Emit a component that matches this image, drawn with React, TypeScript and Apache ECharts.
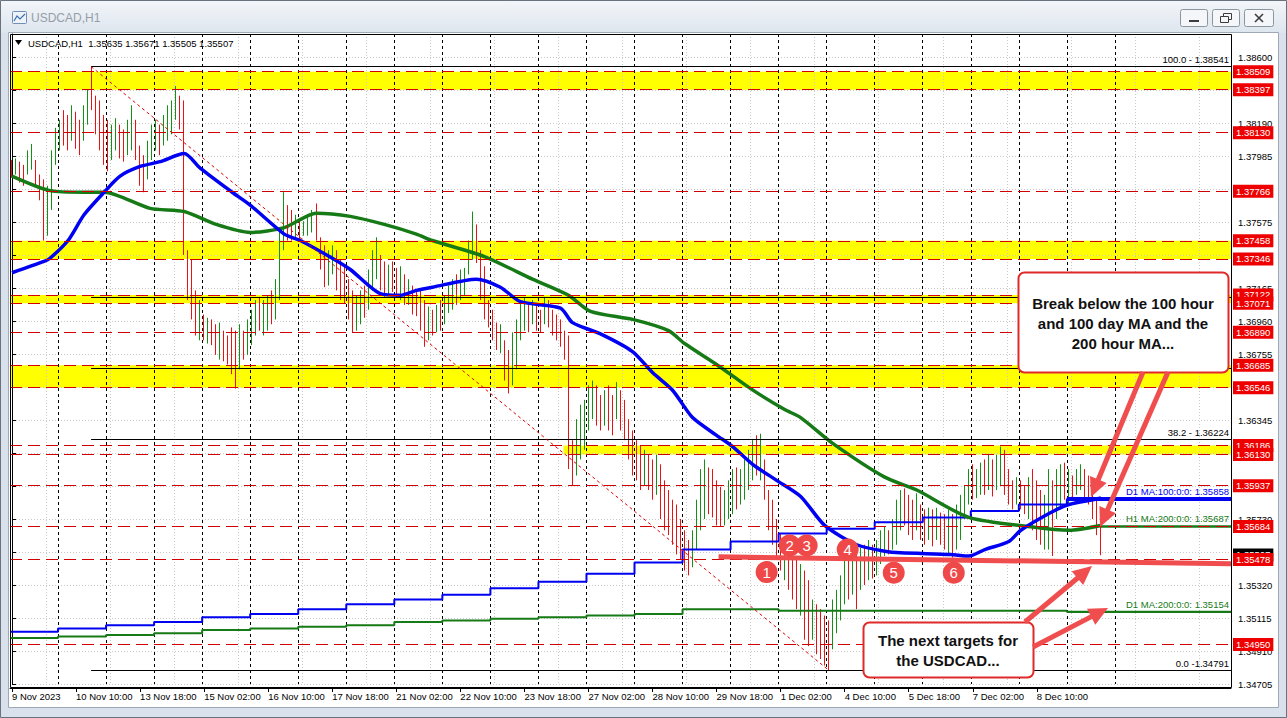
import React, { useEffect, useRef } from "react";
import * as echarts from "echarts";

const FONT = '"Liberation Sans", Arial, Helvetica, sans-serif';

// ---------------- data ----------------
const WINDOW_TITLE = "USDCAD,H1";
const LAST_BAR_OHLC = [1.35635, 1.35671, 1.35505, 1.35507];

const SLOT_COUNT = 305; // 2-hour slots across the plot (incl. empty space right of the last bar)
const BARS_PER_DAY = 12;
const X_TICK_EVERY = 16;
const X_TICK_LABELS = [
  "9 Nov 2023", "10 Nov 10:00", "13 Nov 18:00", "15 Nov 02:00", "16 Nov 10:00",
  "17 Nov 18:00", "21 Nov 02:00", "22 Nov 10:00", "23 Nov 18:00", "27 Nov 02:00",
  "28 Nov 10:00", "29 Nov 18:00", "1 Dec 02:00", "4 Dec 10:00", "5 Dec 18:00",
  "7 Dec 02:00", "8 Dec 10:00",
];

const Y_MIN = 1.34705;
const Y_MAX = 1.38743;
const Y_STEP = 0.00205;

const HIGH = [
  1.3796, 1.3797, 1.3795, 1.3793, 1.3802, 1.3806, 1.3796, 1.3787, 1.3784, 1.3780,
  1.3802, 1.3816, 1.3821, 1.3827, 1.3824, 1.3830, 1.3826, 1.3821, 1.3830, 1.3840,
  1.3854, 1.3836, 1.3833, 1.3824, 1.3821, 1.3818, 1.3822, 1.3818, 1.3815, 1.3821,
  1.3830, 1.3821, 1.3805, 1.3799, 1.3808, 1.3818, 1.3821, 1.3818, 1.3824, 1.3830,
  1.3833, 1.3842, 1.3836, 1.3833, 1.3740, 1.3734, 1.3715, 1.3709, 1.3700, 1.3698,
  1.3697, 1.3694, 1.3695, 1.3690, 1.3687, 1.3692, 1.3690, 1.3694, 1.3690, 1.3697,
  1.3703, 1.3709, 1.3711, 1.3709, 1.3712, 1.3715, 1.3722, 1.3753, 1.3776, 1.3768,
  1.3765, 1.3762, 1.3759, 1.3758, 1.3762, 1.3765, 1.3769, 1.3748, 1.3743, 1.3740,
  1.3743, 1.3740, 1.3734, 1.3731, 1.3722, 1.3715, 1.3712, 1.3715, 1.3718, 1.3728,
  1.3740, 1.3748, 1.3737, 1.3733, 1.3731, 1.3733, 1.3729, 1.3730, 1.3725, 1.3722,
  1.3718, 1.3715, 1.3715, 1.3709, 1.3705, 1.3703, 1.3706, 1.3709, 1.3712, 1.3718,
  1.3722, 1.3725, 1.3728, 1.3729, 1.3746, 1.3764, 1.3756, 1.3740, 1.3730, 1.3709,
  1.3703, 1.3695, 1.3694, 1.3684, 1.3678, 1.3689, 1.3697, 1.3709, 1.3711, 1.3706,
  1.3709, 1.3706, 1.3703, 1.3711, 1.3709, 1.3703, 1.3700, 1.3697, 1.3690, 1.3687,
  1.3622, 1.3635, 1.3644, 1.3647, 1.3656, 1.3659, 1.3656, 1.3650, 1.3653, 1.3656,
  1.3650, 1.3658, 1.3653, 1.3647, 1.3635, 1.3628, 1.3622, 1.3619, 1.3616, 1.3613,
  1.3610, 1.3613, 1.3607, 1.3597, 1.3591, 1.3585, 1.3582, 1.3573, 1.3566, 1.3560,
  1.3566, 1.3585, 1.3604, 1.3610, 1.3605, 1.3604, 1.3597, 1.3593, 1.3591, 1.3597,
  1.3604, 1.3605, 1.3604, 1.3610, 1.3616, 1.3622, 1.3625, 1.3626, 1.3610, 1.3591,
  1.3585, 1.3573, 1.3564, 1.3560, 1.3557, 1.3554, 1.3548, 1.3545, 1.3541, 1.3535,
  1.3523, 1.3520, 1.3517, 1.3513, 1.3510, 1.3523, 1.3529, 1.3538, 1.3548, 1.3551,
  1.3554, 1.3551, 1.3555, 1.3557, 1.3560, 1.3557, 1.3560, 1.3566, 1.3568, 1.3566,
  1.3573, 1.3585, 1.3591, 1.3592, 1.3588, 1.3585, 1.3589, 1.3582, 1.3579, 1.3580,
  1.3579, 1.3580, 1.3577, 1.3576, 1.3579, 1.3576, 1.3582, 1.3588, 1.3594, 1.3604,
  1.3607, 1.3604, 1.3608, 1.3610, 1.3613, 1.3610, 1.3613, 1.3618, 1.3616, 1.3604,
  1.3597, 1.3599, 1.3597, 1.3594, 1.3599, 1.3604, 1.3597, 1.3591, 1.3588, 1.3604,
  1.3597, 1.3604, 1.3607, 1.3608, 1.3604, 1.3600, 1.3604, 1.3607, 1.3604, 1.3600,
  1.3591, 1.3585, 1.3579,
];

const LOW = [
  1.3785, 1.3787, 1.3782, 1.3780, 1.3787, 1.3790, 1.3780, 1.3771, 1.3746, 1.3749,
  1.3765, 1.3793, 1.3802, 1.3805, 1.3802, 1.3808, 1.3803, 1.3799, 1.3808, 1.3818,
  1.3827, 1.3812, 1.3802, 1.3793, 1.3789, 1.3796, 1.3802, 1.3797, 1.3795, 1.3799,
  1.3802, 1.3796, 1.3780, 1.3776, 1.3784, 1.3796, 1.3802, 1.3799, 1.3805, 1.3808,
  1.3812, 1.3821, 1.3815, 1.3737, 1.3709, 1.3697, 1.3687, 1.3684, 1.3684, 1.3682,
  1.3681, 1.3675, 1.3672, 1.3671, 1.3669, 1.3663, 1.3654, 1.3666, 1.3672, 1.3675,
  1.3681, 1.3687, 1.3690, 1.3687, 1.3690, 1.3694, 1.3697, 1.3709, 1.3740, 1.3746,
  1.3746, 1.3748, 1.3746, 1.3749, 1.3749, 1.3751, 1.3746, 1.3728, 1.3717, 1.3718,
  1.3725, 1.3715, 1.3709, 1.3707, 1.3697, 1.3689, 1.3690, 1.3694, 1.3698, 1.3703,
  1.3715, 1.3722, 1.3715, 1.3711, 1.3712, 1.3714, 1.3711, 1.3709, 1.3706, 1.3706,
  1.3700, 1.3699, 1.3690, 1.3680, 1.3684, 1.3687, 1.3689, 1.3690, 1.3694, 1.3701,
  1.3703, 1.3706, 1.3709, 1.3712, 1.3725, 1.3734, 1.3732, 1.3709, 1.3697, 1.3692,
  1.3684, 1.3678, 1.3676, 1.3659, 1.3651, 1.3656, 1.3666, 1.3684, 1.3690, 1.3689,
  1.3694, 1.3690, 1.3689, 1.3694, 1.3692, 1.3687, 1.3684, 1.3680, 1.3672, 1.3604,
  1.3594, 1.3600, 1.3610, 1.3616, 1.3628, 1.3635, 1.3631, 1.3628, 1.3631, 1.3628,
  1.3625, 1.3635, 1.3628, 1.3622, 1.3610, 1.3600, 1.3597, 1.3591, 1.3594, 1.3591,
  1.3585, 1.3588, 1.3573, 1.3566, 1.3563, 1.3557, 1.3551, 1.3548, 1.3541, 1.3538,
  1.3543, 1.3554, 1.3566, 1.3573, 1.3576, 1.3574, 1.3569, 1.3568, 1.3569, 1.3573,
  1.3576, 1.3579, 1.3582, 1.3585, 1.3591, 1.3597, 1.3600, 1.3597, 1.3585, 1.3566,
  1.3557, 1.3548, 1.3541, 1.3535, 1.3529, 1.3523, 1.3517, 1.3513, 1.3498, 1.3494,
  1.3498, 1.3489, 1.3486, 1.3482, 1.3479, 1.3492, 1.3502, 1.3510, 1.3520, 1.3523,
  1.3526, 1.3517, 1.3529, 1.3532, 1.3535, 1.3536, 1.3538, 1.3545, 1.3550, 1.3551,
  1.3554, 1.3557, 1.3566, 1.3569, 1.3563, 1.3560, 1.3566, 1.3560, 1.3557, 1.3560,
  1.3556, 1.3560, 1.3557, 1.3554, 1.3551, 1.3549, 1.3554, 1.3560, 1.3573, 1.3582,
  1.3585, 1.3586, 1.3588, 1.3588, 1.3591, 1.3587, 1.3591, 1.3594, 1.3588, 1.3582,
  1.3579, 1.3582, 1.3579, 1.3576, 1.3573, 1.3566, 1.3560, 1.3557, 1.3554, 1.3554,
  1.3550, 1.3573, 1.3579, 1.3585, 1.3582, 1.3585, 1.3588, 1.3591, 1.3585, 1.3582,
  1.3573, 1.3563, 1.35505,
];

// U = bullish bar (green), D = bearish bar (red)
const DIRECTION = (
  "DUDDUUDDDU UUUDDUDDUU DDDDDUUDDU UDDDUUUDUU UUDDDDDUDU DDUDDDDUDU UUDUUDUUUD " +
  "DUDUUUDDDU UDDDDDUUDU UUDDUDDUDU DDDDUDUDUU UDUUUUDDDD DDUDDUUUUD UDDUDDDDDD " +
  "DUUUUUDDUD DUDDDDDDUD DUDDDDDDDD UUUUDDDDUU UDUUUUDUDD DDDUDDDUDD UDDDDUUUUD " +
  "UDUDUDUUUD UUUDDDUDDU DUDDUDUUUU DUUDUDUUDD DUDDUDDDUU DUUDUDUUDD DDD"
).replace(/ /g, "");

// 100-hour and 200-hour moving averages: [bar position, price]
const H1_MA100 = [
  [0, 1.3726], [8, 1.3733], [9.5, 1.3735], [14, 1.3746], [18, 1.3762], [23, 1.3776],
  [27, 1.3786], [32, 1.3792], [37, 1.3795], [43, 1.38], [47, 1.3791], [55, 1.3776],
  [59.5, 1.3768], [68, 1.375], [72, 1.3746], [80, 1.3735], [84.5, 1.3728], [92, 1.3713],
  [97, 1.3712], [101, 1.3715], [105, 1.3717], [116, 1.3722], [122, 1.3717], [127, 1.3708],
  [137, 1.3704], [140, 1.3695], [147, 1.3688], [155, 1.3677], [160, 1.3664], [165, 1.3653],
  [170, 1.3636], [176, 1.3625], [180, 1.3618], [185, 1.3607], [191, 1.3597], [197, 1.3587],
  [203, 1.3569], [211, 1.3557], [218, 1.3553], [222, 1.3552], [234.5, 1.3551], [239, 1.355],
  [243, 1.3554], [249, 1.3559], [252, 1.3566], [259.5, 1.3577], [264, 1.3582], [270, 1.3585],
  [272, 1.3586],
];
const H1_MA200 = [
  [0, 1.3786], [9.5, 1.3777], [18, 1.3776], [23, 1.3776], [34.5, 1.3766], [43, 1.3764],
  [51, 1.3756], [59.5, 1.3751], [68, 1.3754], [76, 1.3763], [84.5, 1.3761], [93, 1.3756],
  [101, 1.375], [105, 1.3746], [118, 1.3736], [130, 1.3722], [139, 1.3712], [144.5, 1.3702],
  [155, 1.3697], [164, 1.369], [168, 1.3682], [176, 1.3669], [184.5, 1.3654], [193, 1.3641],
  [197, 1.3636], [205, 1.362], [218, 1.3599], [226, 1.3591], [239, 1.3574], [255, 1.3568],
  [264, 1.3566], [272, 1.3569],
];
// daily moving averages, one value per trading day
const D1_MA100_DAILY = [
  1.3503, 1.3505, 1.3507, 1.3509, 1.3512, 1.3514, 1.3517, 1.352, 1.3523, 1.3526, 1.353, 1.3534,
  1.3539, 1.3546, 1.3554, 1.3559, 1.3564, 1.3567, 1.3571, 1.3574, 1.3578, 1.3582, 1.35858,
];
const D1_MA200_DAILY = [
  1.3499, 1.35, 1.3501, 1.3502, 1.3504, 1.3505, 1.3506, 1.3507, 1.3509, 1.351, 1.3511, 1.3512,
  1.3513, 1.3514, 1.3517, 1.3517, 1.3516, 1.3516, 1.3516, 1.3516, 1.3516, 1.3516, 1.35154,
];
const H1_MA200_NOW = 1.35687;

const LEVELS = [
  1.38509, 1.38397, 1.3813, 1.37766, 1.37458, 1.37346, 1.37122, 1.37071, 1.3689,
  1.36685, 1.36546, 1.36186, 1.3613, 1.35937, 1.35684, 1.35478, 1.3495,
];
// yellow zones: [top, bottom, first bar]
const BANDS = [
  [1.38509, 1.38397, -0.5],
  [1.37458, 1.37346, -0.5],
  [1.37122, 1.37071, -0.5],
  [1.36685, 1.36546, -0.5],
  [1.36186, 1.3613, 137.75],
];
const FIB_LEVELS = [
  ["100.0 - 1.38541", 1.38541],
  ["61.8 - 1.37109", 1.37109],
  ["50.0 - 1.36666", 1.36666],
  ["38.2 - 1.36224", 1.36224],
  ["0.0 -1.34791", 1.34791],
];
const FIB_SWING_HIGH_BAR = 19.75;
const FIB_SWING_LOW_BAR = 204;
const SUPPORT_LINE = [[176.5, 1.35495], [304.5, 1.35452]];
const MARKERS = [
  ["1", 188.5, 1.3540],
  ["2", 194.25, 1.35566],
  ["3", 198.5, 1.35566],
  ["4", 208.75, 1.3554],
  ["5", 220.25, 1.35396],
  ["6", 235.25, 1.35396],
];

// ---------------- styles ----------------
const UP = "#149014";
const DOWN = "#e81212";
const BLUE = "#0000f2";
const GREEN = "#167a16";
const LEVEL_RED = "#d00000";
const SALMON = "#f04e4e";

function arrow(x1: number, y1: number, x2: number, y2: number) {
  const dx = x2 - x1, dy = y2 - y1, len = Math.hypot(dx, dy);
  const ux = dx / len, uy = dy / len;
  const hl = 19, hw = 9;
  const bx = x2 - ux * hl, by = y2 - uy * hl;
  const px = -uy, py = ux;
  return [
    { type: "line", z: 100, shape: { x1, y1, x2: bx + ux * 3, y2: by + uy * 3 }, style: { stroke: SALMON, lineWidth: 5 } },
    {
      type: "polygon", z: 100,
      shape: { points: [[x2, y2], [bx + px * hw, by + py * hw], [bx - px * hw, by - py * hw]] },
      style: { fill: SALMON },
    },
  ];
}

function buildOption() {
  const slots = Array.from({ length: SLOT_COUNT }, (_, i) => String(i));
  const candles = HIGH.map((h, i) =>
    DIRECTION[i] === "U" ? [LOW[i], h, LOW[i], h] : [h, LOW[i], LOW[i], h]
  );
  const xEnd = SLOT_COUNT - 0.5;
  const dayX = (k: number) => k * BARS_PER_DAY - 0.5;

  const d1ma100Steps = D1_MA100_DAILY.map((v, k) => [dayX(k), v]);
  const d1ma200Steps = D1_MA200_DAILY.map((v, k) => [dayX(k), v]);
  d1ma200Steps.push([xEnd, D1_MA200_DAILY[D1_MA200_DAILY.length - 1]]);
  const lastDay = D1_MA100_DAILY.length - 1;
  const D1_MA100_NOW = D1_MA100_DAILY[lastDay];
  const D1_MA200_NOW = D1_MA200_DAILY[lastDay];

  const smallText = { fontSize: 9.5, fontFamily: FONT };

  const levelData = LEVELS.map((v) => ({
    yAxis: v,
    lineStyle: { color: LEVEL_RED, type: [12, 6], width: 1 },
    label: {
      show: true, position: "end", distance: 2, formatter: v.toFixed(5),
      color: "#fff", backgroundColor: "#ee0000", padding: [1, 3, 1, 3], lineHeight: 11, ...smallText,
    },
  }));

  const fibData: any[] = FIB_LEVELS.map(([txt, v]) => [
    {
      coord: [FIB_SWING_HIGH_BAR, v],
      lineStyle: { color: "#000", width: 1, type: "solid" },
      label: { show: true, position: "insideEndTop", distance: 2, formatter: txt, color: "#000", ...smallText },
    },
    { coord: [xEnd, v] },
  ]);
  fibData.push([
    {
      coord: [FIB_SWING_HIGH_BAR, FIB_LEVELS[0][1]],
      lineStyle: { color: "#e00000", width: 1, type: [3, 3] },
      label: { show: false },
    },
    { coord: [FIB_SWING_LOW_BAR, FIB_LEVELS[4][1]] },
  ]);

  const maLabel = (txt: string, color: string) => ({
    show: true, position: "insideEndTop", distance: 2, formatter: txt, color, ...smallText,
  });

  const header = `${WINDOW_TITLE}  ${LAST_BAR_OHLC.map((v) => v.toFixed(5)).join(" ")}`;

  const graphic: any[] = [
    { type: "rect", z: -100, shape: { x: 0, y: 0, width: 1287, height: 718 }, style: { fill: "#d9e2ec" } },
    {
      type: "rect", z: -99, shape: { x: 0, y: 0, width: 1287, height: 33 },
      style: {
        fill: new echarts.graphic.LinearGradient(0, 0, 0, 1, [
          { offset: 0, color: "#f3f6f9" }, { offset: 1, color: "#dde5ee" },
        ]),
      },
    },
    { type: "rect", z: -98, shape: { x: 0.5, y: 0.5, width: 1286, height: 717 }, style: { fill: "none", stroke: "#6a737d", lineWidth: 1 } },
    { type: "rect", z: -97, shape: { x: 8.5, y: 32.5, width: 1270, height: 675 }, style: { fill: "#ffffff", stroke: "#9ea9b5", lineWidth: 1 } },
    // window icon + title
    { type: "rect", z: -90, shape: { x: 12.5, y: 11.5, width: 14, height: 12, r: 1 }, style: { fill: "#eef3f9", stroke: "#6f8fb5", lineWidth: 1 } },
    { type: "polyline", z: -89, shape: { points: [[14, 21], [17, 16], [20, 19], [25, 14]] }, style: { stroke: "#3a6fb0", lineWidth: 1.2, fill: "none" } },
    { type: "text", z: -89, x: 31, y: 18, style: { text: WINDOW_TITLE, fill: "#959ea8", font: `12px ${FONT}`, verticalAlign: "middle" } },
    // window buttons
    { type: "rect", z: -90, shape: { x: 1180.5, y: 9.5, width: 27, height: 17, r: 2 }, style: { fill: "#f4f6f9", stroke: "#8c96a1", lineWidth: 1 } },
    { type: "rect", z: -89, shape: { x: 1189, y: 20, width: 10, height: 2 }, style: { fill: "#3c3c3c" } },
    { type: "rect", z: -90, shape: { x: 1212.5, y: 9.5, width: 27, height: 17, r: 2 }, style: { fill: "#f4f6f9", stroke: "#8c96a1", lineWidth: 1 } },
    { type: "rect", z: -89, shape: { x: 1223.5, y: 13.5, width: 8, height: 6 }, style: { fill: "none", stroke: "#3c3c3c", lineWidth: 1 } },
    { type: "rect", z: -89, shape: { x: 1220.5, y: 16.5, width: 8, height: 6 }, style: { fill: "#f4f6f9", stroke: "#3c3c3c", lineWidth: 1 } },
    { type: "rect", z: -90, shape: { x: 1244.5, y: 9.5, width: 29, height: 17, r: 2 }, style: { fill: "#f4f6f9", stroke: "#8c96a1", lineWidth: 1 } },
    { type: "line", z: -89, shape: { x1: 1255, y1: 14, x2: 1263, y2: 22 }, style: { stroke: "#3c3c3c", lineWidth: 1.6 } },
    { type: "line", z: -89, shape: { x1: 1263, y1: 14, x2: 1255, y2: 22 }, style: { stroke: "#3c3c3c", lineWidth: 1.6 } },
    // plot frame
    { type: "rect", z: 50, shape: { x: 10.5, y: 34.5, width: 1221, height: 653 }, style: { fill: "none", stroke: "#000", lineWidth: 1 } },
    // chart header
    { type: "polygon", z: 50, shape: { points: [[15, 40], [22, 40], [18.5, 45]] }, style: { fill: "#000" } },
    { type: "text", z: 50, x: 28, y: 43, style: { text: header, fill: "#000", font: `9.5px ${FONT}`, verticalAlign: "middle" } },
    // callout 1
    { type: "rect", z: 100, shape: { x: 1018.5, y: 272.5, width: 210, height: 100, r: 6 }, style: { fill: "#fff", stroke: "#e02a2a", lineWidth: 2 } },
    {
      type: "text", z: 101, x: 1123, y: 293,
      style: {
        text: "Break below the 100 hour\nand 100 day MA and the\n200 hour MA...",
        fill: "#111", font: `bold 15px ${FONT}`, align: "center", verticalAlign: "top", lineHeight: 20,
      },
    },
    // callout 2
    { type: "rect", z: 100, shape: { x: 863.5, y: 622.5, width: 170, height: 55, r: 6 }, style: { fill: "#fff", stroke: "#e02a2a", lineWidth: 2 } },
    {
      type: "text", z: 101, x: 948, y: 630,
      style: {
        text: "The next targets for\nthe USDCAD...",
        fill: "#111", font: `bold 15px ${FONT}`, align: "center", verticalAlign: "top", lineHeight: 20,
      },
    },
    ...arrow(1143, 372, 1091, 497),
    ...arrow(1168, 372, 1100, 527),
    ...arrow(1025, 622, 1092, 566),
    ...arrow(1033, 647, 1108, 608),
  ];

  return {
    animation: false,
    backgroundColor: "transparent",
    textStyle: { fontFamily: FONT },
    graphic,
    grid: { left: 10, right: 56, top: 34, bottom: 34, containLabel: false },
    xAxis: [
      {
        type: "category", data: slots, boundaryGap: true, position: "bottom", offset: 4,
        axisLine: { show: true, onZero: false, lineStyle: { color: "#000", width: 1 } },
        axisTick: {
          show: true, alignWithLabel: true, length: 4, lineStyle: { color: "#000" },
          interval: (i: number) => i % X_TICK_EVERY === 0 && i / X_TICK_EVERY < X_TICK_LABELS.length,
        },
        axisLabel: {
          show: true, align: "left", margin: 3, color: "#000", ...smallText,
          interval: (i: number) => i % X_TICK_EVERY === 0 && i / X_TICK_EVERY < X_TICK_LABELS.length,
          formatter: (_v: string, i: number) => X_TICK_LABELS[i / X_TICK_EVERY] || "",
        },
        splitLine: {
          show: true,
          interval: (i: number) => i > 0 && i % BARS_PER_DAY === 0 && i <= 23 * BARS_PER_DAY,
          lineStyle: { color: "#000", width: 1, type: [3, 3] },
        },
      },
      {
        type: "category", data: slots, boundaryGap: true, position: "bottom",
        axisLine: { show: false }, axisTick: { show: false }, axisLabel: { show: false },
        splitLine: { show: true, interval: (i: number) => i % X_TICK_EVERY === 9, lineStyle: { color: "#c9c9c9", width: 1, type: [1, 2] } },
      },
      { type: "value", min: -0.5, max: xEnd, show: false, position: "bottom" },
    ],
    yAxis: {
      type: "value", position: "right", min: Y_MIN, max: Y_MAX, interval: Y_STEP,
      axisLine: { show: true, lineStyle: { color: "#000", width: 1 } },
      axisTick: { show: true, length: 4, lineStyle: { color: "#000" } },
      axisLabel: {
        formatter: (v: number) => v.toFixed(5), margin: 7, color: "#000",
        showMaxLabel: false, showMinLabel: true, ...smallText,
      },
      splitLine: { show: true, lineStyle: { color: "#c9c9c9", width: 1, type: [1, 2] } },
    },
    series: [
      {
        name: "zones", type: "line", xAxisIndex: 2, data: [], silent: true,
        markArea: {
          silent: true, z: -1, itemStyle: { color: "#ffff00" },
          data: BANDS.map(([a, b, s]) => [{ coord: [s, a] }, { coord: [xEnd, b] }]),
        },
      },
      {
        name: "current", type: "line", xAxisIndex: 2, data: [], silent: true,
        markLine: {
          silent: true, z: 4, symbol: ["none", "none"], precision: 6,
          data: [{
            yAxis: LAST_BAR_OHLC[3], lineStyle: { color: "rgba(0,0,0,0)", width: 0 },
            label: {
              show: true, position: "end", distance: 2, formatter: LAST_BAR_OHLC[3].toFixed(5),
              color: "#fff", backgroundColor: "#000", padding: [1, 3, 1, 3], lineHeight: 11, ...smallText,
            },
          }],
        },
      },
      {
        name: "price", type: "candlestick", xAxisIndex: 0, data: candles, z: 3,
        barWidth: 1,
        itemStyle: { color: UP, color0: DOWN, borderColor: UP, borderColor0: DOWN, borderWidth: 1 },
      },
      {
        name: "levels", type: "line", xAxisIndex: 2, data: [], silent: true,
        markLine: { silent: true, z: 5, symbol: ["none", "none"], precision: 6, data: levelData },
      },
      {
        name: "fibonacci", type: "line", xAxisIndex: 2, data: [], silent: true,
        markLine: { silent: true, z: 5, symbol: ["none", "none"], precision: 6, data: fibData },
      },
      {
        name: "D1 MA200", type: "line", xAxisIndex: 2, data: d1ma200Steps, step: "end", z: 4,
        showSymbol: false, silent: true, lineStyle: { color: GREEN, width: 2 },
        markLine: {
          silent: true, z: 6, symbol: ["none", "none"], precision: 6,
          data: [[
            { coord: [dayX(lastDay), D1_MA200_NOW], lineStyle: { color: GREEN, width: 2, type: "solid" }, label: maLabel(`D1 MA:200:0:0: ${D1_MA200_NOW.toFixed(5)}`, GREEN) },
            { coord: [xEnd, D1_MA200_NOW] },
          ]],
        },
      },
      {
        name: "D1 MA100", type: "line", xAxisIndex: 2, data: d1ma100Steps, step: "end", z: 4,
        showSymbol: false, silent: true, lineStyle: { color: BLUE, width: 2 },
        markLine: {
          silent: true, z: 6, symbol: ["none", "none"], precision: 6,
          data: [[
            { coord: [dayX(lastDay), D1_MA100_NOW], lineStyle: { color: BLUE, width: 4, type: "solid" }, label: maLabel(`D1 MA:100:0:0: ${D1_MA100_NOW.toFixed(5)}`, BLUE) },
            { coord: [xEnd, D1_MA100_NOW] },
          ]],
        },
      },
      {
        name: "H1 MA200", type: "line", xAxisIndex: 2, data: H1_MA200, smooth: 0.25, z: 4,
        showSymbol: false, silent: true, lineStyle: { color: GREEN, width: 3.5 },
        markLine: {
          silent: true, z: 4, symbol: ["none", "none"], precision: 6,
          data: [[
            { coord: [H1_MA200[H1_MA200.length - 1][0], H1_MA200_NOW], lineStyle: { color: GREEN, width: 2.5, type: "solid" }, label: maLabel(`H1 MA:200:0:0: ${H1_MA200_NOW.toFixed(5)}`, GREEN) },
            { coord: [xEnd, H1_MA200_NOW] },
          ]],
        },
      },
      {
        name: "H1 MA100", type: "line", xAxisIndex: 2, data: H1_MA100, smooth: 0.25, z: 4,
        showSymbol: false, silent: true, lineStyle: { color: BLUE, width: 3.5 },
      },
      {
        name: "support", type: "line", xAxisIndex: 2, data: SUPPORT_LINE, z: 6,
        showSymbol: false, silent: true, lineStyle: { color: SALMON, width: 5 },
      },
      {
        name: "markers", type: "scatter", xAxisIndex: 2, z: 8, silent: true,
        symbol: "circle", symbolSize: 22,
        itemStyle: { color: "#ee4848", opacity: 1 },
        data: MARKERS.map(([n, i, v]) => ({
          value: [i, v],
          label: { show: true, position: "inside", formatter: n as string, color: "#fff", fontSize: 15, fontFamily: FONT },
        })),
      },
    ],
  };
}

export default function App() {
  const ref = useRef<HTMLDivElement>(null);
  useEffect(() => {
    document.body.style.margin = "0";
    const chart = echarts.init(ref.current!, null, { renderer: "svg" });
    chart.setOption(buildOption() as any);
    return () => chart.dispose();
  }, []);
  return (
    <div
      ref={ref}
      style={{ position: "absolute", left: 0, top: 0, width: 1287, height: 718 }}
    />
  );
}
